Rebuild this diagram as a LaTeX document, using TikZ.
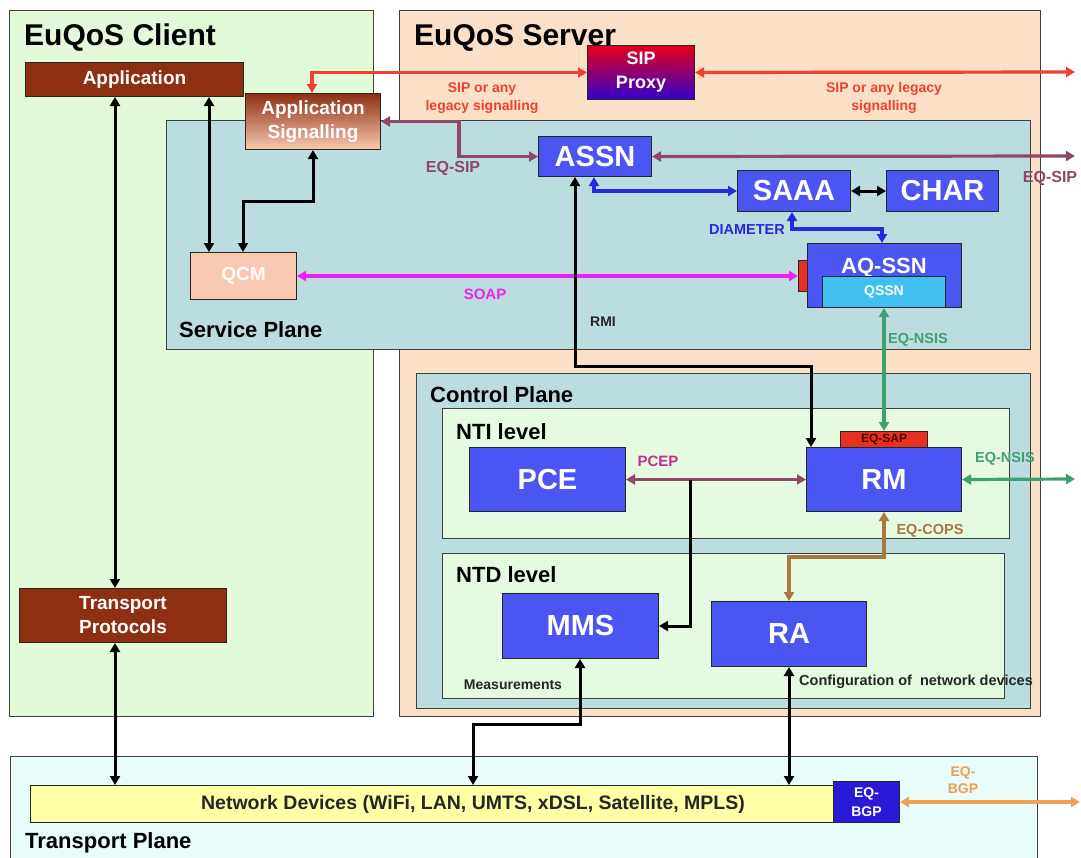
\documentclass[tikz,border=0pt]{standalone}
\usepackage{fontspec}
\setmainfont{Liberation Sans}
\usetikzlibrary{arrows.meta,calc}
\definecolor{clientbg}{HTML}{E2FADA}
\definecolor{serverbg}{HTML}{FBE0C8}
\definecolor{planebg}{HTML}{BCDDE0}
\definecolor{levelbg}{HTML}{E6FAE2}
\definecolor{transbg}{HTML}{E8FCFC}
\definecolor{bordc}{HTML}{404040}
\definecolor{boxblue}{HTML}{4B55F2}
\definecolor{brownbox}{HTML}{8E2F12}
\definecolor{peach}{HTML}{F8C9B0}
\definecolor{ndyellow}{HTML}{FFFFA8}
\definecolor{bgpblue}{HTML}{2A1AD8}
\definecolor{qssnc}{HTML}{40C0F0}
\definecolor{sapred}{HTML}{E83020}
\definecolor{cred}{HTML}{F04030}
\definecolor{cpur}{HTML}{904868}
\definecolor{cblue}{HTML}{2828E0}
\definecolor{cmag}{HTML}{F020F0}
\definecolor{cgreen}{HTML}{40A070}
\definecolor{cbrown}{HTML}{A87840}
\definecolor{corange}{HTML}{F0A050}
\definecolor{cpcep}{HTML}{C03090}
\newcommand\fsz[2]{\fontsize{#1}{#2}\selectfont\bfseries}
\tikzset{
  region/.style={draw=bordc, line width=1pt, inner sep=0pt},
  boxbase/.style={draw=black!85, line width=1pt, inner sep=0pt, anchor=north west, align=center},
  bluebox/.style={boxbase, fill=boxblue, text=white, font=\fsz{29}{31}},
  brownbx/.style={boxbase, fill=brownbox, text=white, font=\fsz{19}{24}},
  blk/.style={line width=3pt, black},
  clr/.style={line width=3.2pt},
  lbl/.style={inner sep=0pt, align=center},
}
\begin{document}
\begin{tikzpicture}[x=1pt, y=-1pt, >={Triangle[length=9pt,width=10pt]}]
\useasboundingbox (0,0) rectangle (1081,857);
% regions
\fill[white] (0,0) rectangle (1081,857);
\draw[region, fill=clientbg] (9,10) rectangle (373,716);
\draw[region, fill=serverbg] (399,10) rectangle (1040,716);
\draw[region, fill=planebg] (166,120) rectangle (1030,349);
\draw[region, fill=planebg] (416,373) rectangle (1030,708);
\draw[region, fill=levelbg] (442,408) rectangle (1009,538);
\draw[region, fill=levelbg] (442,553) rectangle (1004,698);
\draw[region, fill=transbg] (10,756) rectangle (1037,870);
% titles
\node[lbl, anchor=base west, font=\fsz{30}{32}] (tclient) at (24,45) {EuQoS Client};
\node[lbl, anchor=base west, font=\fsz{30}{32}] (tserver) at (414,45) {EuQoS Server};
\node[lbl, anchor=base west, font=\fsz{22}{24}] (tservice) at (179,337) {Service Plane};
\node[lbl, anchor=base west, font=\fsz{22}{24}] (tcontrol) at (430,402) {Control Plane};
\node[lbl, anchor=base west, font=\fsz{22}{24}] (tnti) at (456,439) {NTI level};
\node[lbl, anchor=base west, font=\fsz{22}{24}] (tntd) at (456,582) {NTD level};
\node[lbl, anchor=base west, font=\fsz{22}{24}] (ttrans) at (25,848) {Transport Plane};
% client nodes
\node[brownbx, minimum width=218pt, minimum height=34pt] (app) at (25,62) {Application};
\node[boxbase, top color=brownbox, bottom color=peach, middle color=peach!50!brownbox, text=white, font=\fsz{19}{24}, minimum width=135pt, minimum height=56pt] (as) at (245,93) {Application\\Signalling};
\node[boxbase, fill=peach, text=white!95!peach, font=\fsz{19}{21}, minimum width=106pt, minimum height=47pt] (qcm) at (190,252) {QCM};
\node[brownbx, minimum width=207pt, minimum height=54pt] (tp) at (19,588) {Transport\\Protocols};
% server nodes
\node[boxbase, top color=red!90!blue, bottom color=blue!80!red, text=white, font=\fsz{18}{24}, minimum width=107pt, minimum height=54pt] (sip) at (587,45) {SIP\\Proxy};
\node[bluebox, minimum width=113pt, minimum height=40pt] (assn) at (538,136) {ASSN};
\node[bluebox, minimum width=113pt, minimum height=41pt] (saaa) at (737,170) {SAAA};
\node[bluebox, minimum width=112pt, minimum height=41pt] (char) at (886,170) {CHAR};
\node[boxbase, fill=boxblue, minimum width=154pt, minimum height=64pt] (aqssn) at (807,243) {};
\node[lbl, text=white, font=\fsz{22}{24}, anchor=base] (aqt) at (884,273) {AQ-SSN};
\node[boxbase, fill=qssnc, text=white, font=\fsz{14}{16}, minimum width=123pt, minimum height=31pt] (qssn) at (822,276) {QSSN};
\node[boxbase, fill=sapred, minimum width=9pt, minimum height=31pt] (tab) at (798,260) {};
% control plane nodes
\node[bluebox, minimum width=156pt, minimum height=64pt] (pce) at (469,447) {PCE};
\node[bluebox, minimum width=155pt, minimum height=64pt] (rm) at (806,447) {RM};
\node[boxbase, fill=sapred, text=black!70!red, font=\fsz{12}{13}, minimum width=87pt, minimum height=16pt] (sap) at (840,431) {EQ-SAP};
\node[bluebox, minimum width=156pt, minimum height=65pt] (mms) at (502,593) {MMS};
\node[bluebox, minimum width=155pt, minimum height=65pt] (ra) at (711,601) {RA};
% transport
\node[boxbase, fill=ndyellow, text=black!85, font=\fsz{19.5}{21}, minimum width=805pt, minimum height=37pt] (nd) at (30,785) {\hspace*{80pt}Network Devices (WiFi, LAN, UMTS, xDSL, Satellite, MPLS)};
\node[boxbase, fill=bgpblue, text=white, font=\fsz{14}{19}, minimum width=66pt, minimum height=41pt] (bgp) at (833,781) {EQ-\\BGP};
% free ends
\coordinate (sipR) at (1075,72);
\coordinate (assnR) at (1075,156);
\coordinate (rmR) at (1075,479);
\coordinate (bgpR) at (1080,802);
% connectors
\draw[blk,<->] ($(app.south west)+(90,0)$) -- ($(tp.north west)+(96,0)$);
\draw[blk,<->] ($(app.south west)+(184,0)$) -- ($(qcm.north west)+(19,0)$);
\draw[blk,<->] ($(as.south west)+(68,0)$) -- ++(0,51) -| ($(qcm.north west)+(53,0)$);
\draw[clr,cred,<->] (sip.west) -| ($(as.north west)+(67,0)$);
\draw[clr,cred,<->] (sip.east) -- (sipR);
\draw[clr,cpur,<->] (as.east) -- ++(78,0) |- (assn.west);
\draw[clr,cpur,<->] (assn.east) -- (assnR);
\draw[clr,cblue,<->] ($(assn.south west)+(56,0)$) |- (saaa.west);
\draw[blk,<->] (saaa.east) -- (char.west);
\draw[clr,cblue,<->] ($(saaa.south west)+(55,0)$) -- ++(0,17) -| ($(aqssn.north west)+(75,0)$);
\draw[clr,cmag,<->] (qcm.east) -- (tab.west);
\draw[blk,<->] ($(assn.south west)+(37,0)$) -- ++(0,189) -| ($(rm.north west)+(5,0)$);
\draw[clr,cgreen,<->] (qssn.south) -- (sap.north);
\draw[clr,cgreen,<->] (rm.east) -- (rmR);
\draw[clr,cpur,<->] (pce.east) -- (rm.west);
\draw[blk,->] ($(pce.east)+(64,0)$) |- (mms.east);
\draw[clr,cbrown,<->] ($(rm.south west)+(78,0)$) -- ++(0,45) -| (ra.north);
\draw[blk,<->] ($(mms.south west)+(78,0)$) -- ++(0,65) -| ($(nd.north west)+(443,0)$);
\draw[blk,<->] (ra.south) -- (ra.south |- nd.north);
\draw[blk,<->] ($(tp.south west)+(96,0)$) -- ($(nd.north west)+(85,0)$);
\draw[clr,corange,<->] (bgp.east) -- (bgpR);
% labels
\node[lbl, text=cred, font=\fsz{14}{18}] (l1) at (482,98) {SIP or any\\legacy signalling};
\node[lbl, text=cred, font=\fsz{14}{18}] (l2) at (884,98) {SIP or any legacy\\signalling};
\node[lbl, text=cpur, font=\fsz{16}{18}] (l3) at (453,168) {EQ-SIP};
\node[lbl, text=cpur, font=\fsz{16}{18}] (l4) at (1050,178) {EQ-SIP};
\node[lbl, text=cblue, font=\fsz{14.5}{16}] (l5) at (747,230) {DIAMETER};
\node[lbl, text=cmag, font=\fsz{15}{17}] (l6) at (485,294) {SOAP};
\node[lbl, text=black!85, font=\fsz{14}{16}] (l7) at (603,322) {RMI};
\node[lbl, text=cgreen, font=\fsz{14.5}{16}] (l8) at (918,340) {EQ-NSIS};
\node[lbl, text=cpcep, font=\fsz{15}{17}] (l9) at (658,461) {PCEP};
\node[lbl, text=cgreen, font=\fsz{14.5}{16}] (l10) at (1005,459) {EQ-NSIS};
\node[lbl, text=cbrown, font=\fsz{14.5}{16}] (l11) at (930,531) {EQ-COPS};
\node[lbl, text=black!85, font=\fsz{14}{16}] (l12) at (513,685) {Measurements};
\node[lbl, anchor=west, text=black!85, font=\fsz{14.5}{16}] (l13) at (799,682) {Configuration of \ network devices};
\node[lbl, text=corange, font=\fsz{14}{17}] (l14) at (963,780) {EQ-\\BGP};
\end{tikzpicture}
\end{document}
